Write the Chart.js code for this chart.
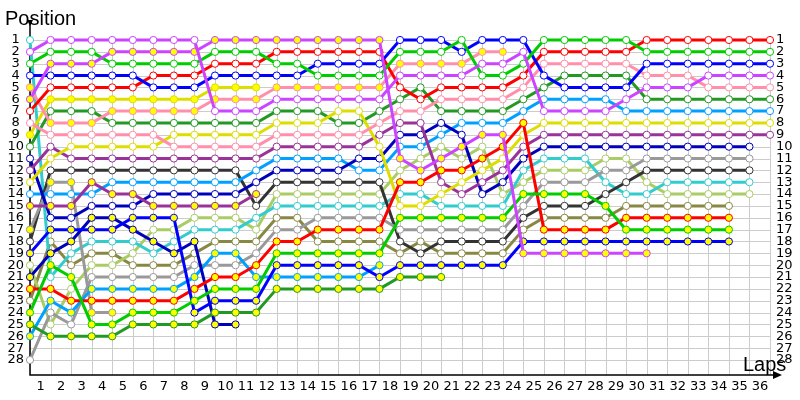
<!DOCTYPE html>
<html>
<head>
<meta charset="utf-8">
<title>Lap chart</title>
<script src="https://cdn.jsdelivr.net/npm/chart.js@4.4.1/dist/chart.umd.min.js"></script>
<style>
  body { margin: 0; background: #ffffff; }
  #lapChart { display: block; }
</style>
</head>
<body>
<canvas id="lapChart" width="800" height="400"></canvas>
<script>
// Vueltas (0 = parrilla de salida) y posiciones del eje
const laps = [0, 1, 2, 3, 4, 5, 6, 7, 8, 9, 10, 11, 12, 13, 14, 15, 16, 17, 18,
              19, 20, 21, 22, 23, 24, 25, 26, 27, 28, 29, 30, 31, 32, 33, 34, 35, 36];
const positions = [1, 2, 3, 4, 5, 6, 7, 8, 9, 10, 11, 12, 13, 14, 15, 16, 17, 18, 19, 20,
                   21, 22, 23, 24, 25, 26, 27, 28];

// Posición de cada piloto en cada vuelta (null = fuera de carrera)
const violetW = [2,1,1,1,1,1,1,1,1,7,7,7,6,6,6,6,6,6,4,4,4,4,3,3,2,7,7,7,7,6,5,5,5,4,4,4,4];
const violetY = [6,3,3,3,2,2,2,2,2,1,1,1,1,1,1,1,1,1,11,12,11,10,9,9,19,19,19,19,19,19,19,null,null,null,null,null,null];
const limeW   = [3,2,2,2,3,3,3,3,3,2,2,2,3,3,4,4,4,4,2,2,2,1,4,4,3,1,1,1,1,1,2,2,2,2,2,2,2];
const limeY   = [24,20,21,25,25,24,24,24,23,22,22,22,19,19,19,19,19,19,16,16,16,16,16,16,14,14,14,14,15,17,17,17,17,17,17,null,null];
const blueW   = [4,4,4,4,4,4,5,5,5,4,4,4,4,4,3,3,3,3,1,1,1,2,1,1,1,4,5,5,5,5,3,3,3,3,3,3,3];
const blueY   = [19,17,17,17,17,16,16,16,24,23,23,23,20,20,20,20,20,21,20,20,20,20,20,20,18,18,18,18,18,18,18,18,18,18,18,null,null];
const redW    = [7,5,5,5,5,5,4,4,4,3,3,3,2,2,2,2,2,2,5,6,5,5,5,5,4,2,2,2,2,2,1,1,1,1,1,1,1];
const redY    = [22,22,23,23,23,23,23,23,22,21,21,20,18,18,17,17,17,17,13,13,12,12,11,10,8,17,17,17,17,16,16,16,16,16,16,null,null];
const pinkW   = [8,9,9,9,9,9,9,10,10,10,10,10,9,9,9,9,9,8,7,7,6,6,6,6,5,3,3,3,3,3,4,4,4,5,5,5,5];
const pinkY   = [5,8,8,8,7,7,7,7,7,6,6,6,5,5,5,5,5,5,3,3,3,3,2,2,null,null,null,null,null,null,null,null,null,null,null,null,null];
const yellowW = [13,11,10,10,10,10,10,9,9,9,9,9,8,8,8,7,7,10,15,15,14,13,12,11,9,8,8,8,8,8,8,8,8,8,8,8,8];
const yellowY = [9,6,6,6,6,6,6,6,6,5,5,5,null,null,null,null,null,null,null,null,null,null,null,null,null,null,null,null,null,null,null,null,null,null,null,null,null];
const dgreenW = [10,7,7,7,8,8,8,8,8,8,8,8,7,7,7,8,8,7,6,5,7,7,7,7,6,5,4,4,4,4,6,6,6,6,6,6,6];
const dgreenY = [25,26,26,26,26,25,25,25,25,24,24,24,22,22,22,22,22,22,21,21,21,null,null,null,null,null,null,null,null,null,null,null,null,null,null,null,null];
const purpleW = [12,10,11,11,11,11,11,11,11,11,11,11,10,10,10,10,10,9,8,8,13,14,13,12,10,9,9,9,9,9,9,9,9,9,9,9,9];
const purpleY = [15,15,15,13,14,14,15,15,15,15,15,14,null,null,null,null,null,null,null,null,null,null,null,null,null,null,null,null,null,null,null,null,null,null,null,null,null];
const navyW   = [11,16,16,15,15,15,14,14,14,14,14,13,12,12,12,12,11,11,9,9,8,9,14,13,11,10,10,10,10,10,10,10,10,10,10,10,null];
const navyY   = [21,19,18,16,16,17,18,19,18,25,25,null,null,null,null,null,null,null,null,null,null,null,null,null,null,null,null,null,null,null,null,null,null,null,null,null,null];
const skyW    = [14,14,14,14,13,13,13,13,13,13,13,12,11,11,11,11,12,12,10,10,9,8,8,8,7,6,6,6,6,7,7,7,7,7,7,7,7];
const skyY    = [26,23,24,22,22,22,22,22,21,19,19,21,21,21,21,21,21,20,null,null,null,null,null,null,null,null,null,null,null,null,null,null,null,null,null,null,null];
const grayW   = [28,24,25,21,21,21,21,21,20,20,20,19,17,17,16,16,16,16,17,17,17,17,17,17,15,13,13,13,12,12,11,11,11,11,11,11,null];
const grayY   = [17,13,13,24,24,null,null,null,null,null,null,null,null,null,null,null,null,null,null,null,null,null,null,null,null,null,null,null,null,null,null,null,null,null,null,null,null];
const blackW  = [18,12,12,12,12,12,12,12,12,12,12,15,13,13,13,13,13,13,18,19,18,18,18,18,16,15,15,15,14,13,12,12,12,12,12,12,null];
const cyanW   = [1,21,19,18,18,18,19,18,17,17,17,16,15,15,15,15,15,15,14,14,15,15,15,15,12,11,11,11,13,14,14,13,13,13,13,13,null];
const lgreenW = [20,25,22,20,20,19,17,17,16,16,16,17,14,14,14,14,14,14,12,11,10,11,10,14,13,12,12,12,11,11,13,14,14,14,14,14,null];
const oliveW  = [23,18,20,19,19,20,20,20,19,18,18,18,16,16,18,18,18,18,19,18,19,19,19,19,17,16,16,16,16,15,15,15,15,15,15,null,null];

// Colores de cada equipo
const colors = {
    violet: '#cc44ff', lime: '#00cc00', blue: '#0000ff', red: '#ff0000',
    pink: '#ff8faa', yellow: '#dddd00', dgreen: '#229922', purple: '#993399',
    navy: '#0000bb', sky: '#00a0ff', gray: '#999999', black: '#333333',
    cyan: '#33cccc', lgreen: '#aacc66', olive: '#888844'
};

// [nombre, valores, color, relleno amarillo]
const series = [
    ['violetW', violetW, colors.violet, false],
    ['violetY', violetY, colors.violet, true],
    ['limeW', limeW, colors.lime, false],
    ['limeY', limeY, colors.lime, true],
    ['blueW', blueW, colors.blue, false],
    ['blueY', blueY, colors.blue, true],
    ['redW', redW, colors.red, false],
    ['redY', redY, colors.red, true],
    ['pinkW', pinkW, colors.pink, false],
    ['pinkY', pinkY, colors.pink, true],
    ['yellowW', yellowW, colors.yellow, false],
    ['yellowY', yellowY, colors.yellow, true],
    ['dgreenW', dgreenW, colors.dgreen, false],
    ['dgreenY', dgreenY, colors.dgreen, true],
    ['purpleW', purpleW, colors.purple, false],
    ['purpleY', purpleY, colors.purple, true],
    ['navyW', navyW, colors.navy, false],
    ['navyY', navyY, colors.navy, true],
    ['skyW', skyW, colors.sky, false],
    ['skyY', skyY, colors.sky, true],
    ['grayW', grayW, colors.gray, false],
    ['grayY', grayY, colors.gray, true],
    ['blackW', blackW, colors.black, false],
    ['cyanW', cyanW, colors.cyan, false],
    ['lgreenW', lgreenW, colors.lgreen, false],
    ['oliveW', oliveW, colors.olive, false]
];

const TITLE_FONT = 'Liberation Sans';
const TICK_FONT = 'DejaVu Sans';

// Rejilla, ejes con flecha y títulos
const lapChartDecor = {
    id: 'lapChartDecor',
    beforeDatasetsDraw(chart) {
        const { ctx, chartArea, scales: { x, y } } = chart;
        const left = x.getPixelForValue(0);
        const right = x.getPixelForValue(36);
        const top = y.getPixelForValue(1);
        const bottom = chartArea.bottom;
        ctx.save();
        ctx.strokeStyle = '#cccccc';
        ctx.lineWidth = 1;
        ctx.beginPath();
        positions.forEach(p => {
            const py = Math.round(y.getPixelForValue(p)) + 0.5;
            ctx.moveTo(left, py);
            ctx.lineTo(right, py);
        });
        laps.forEach(l => {
            const px = Math.round(x.getPixelForValue(l)) + 0.5;
            ctx.moveTo(px, top);
            ctx.lineTo(px, bottom);
        });
        ctx.stroke();

        // ejes en negro
        ctx.strokeStyle = '#000000';
        ctx.lineWidth = 1.5;
        ctx.beginPath();
        ctx.moveTo(left, chartArea.top - 2);
        ctx.lineTo(left, bottom);
        ctx.lineTo(right + 8, bottom);
        ctx.stroke();
        ctx.fillStyle = '#000000';
        ctx.beginPath();
        ctx.moveTo(left - 3, chartArea.top - 5);
        ctx.lineTo(left + 3, chartArea.top - 5);
        ctx.lineTo(left, chartArea.top + 1);
        ctx.closePath();
        ctx.fill();
        ctx.beginPath();
        ctx.moveTo(right + 3, bottom - 4);
        ctx.lineTo(right + 12, bottom);
        ctx.lineTo(right + 3, bottom + 4);
        ctx.closePath();
        ctx.fill();
        ctx.restore();
    },
    afterDraw(chart) {
        const { ctx } = chart;
        ctx.save();
        ctx.fillStyle = '#000000';
        ctx.font = '20px "' + TITLE_FONT + '"';
        ctx.textBaseline = 'alphabetic';
        ctx.textAlign = 'left';
        ctx.fillText('Position', 5, 25);
        ctx.fillText('Laps', 743, 371);
        ctx.restore();
    }
};

const posTicks = scale => { scale.ticks = positions.map(v => ({ value: v })); };

const config = {
    type: 'line',
    data: {
        datasets: series.map(([name, values, color, filled]) => ({
            label: name,
            data: laps.map((lap, i) => ({ x: lap, y: values[i] })),
            borderColor: color,
            backgroundColor: color,
            borderWidth: 3,
            pointRadius: 3.6,
            pointHoverRadius: 3.6,
            pointBorderWidth: 1,
            pointBorderColor: color,
            pointBackgroundColor: filled ? '#ffff00' : '#ffffff',
            tension: 0,
            spanGaps: false,
            clip: false
        }))
    },
    options: {
        responsive: false,
        animation: false,
        devicePixelRatio: 1,
        layout: { padding: { top: 25, right: 0, bottom: 0, left: 0 } },
        plugins: {
            legend: { display: false },
            tooltip: { enabled: false }
        },
        scales: {
            x: {
                type: 'linear',
                min: 0,
                max: 36,
                grid: { display: false, drawTicks: false },
                border: { display: false },
                afterBuildTicks: scale => { scale.ticks = laps.map(v => ({ value: v })); },
                afterFit: scale => { scale.height = 25; },
                ticks: {
                    autoSkip: false,
                    maxRotation: 0,
                    padding: 4,
                    labelOffset: -10,
                    color: '#000000',
                    font: { family: TICK_FONT, size: 13 },
                    callback: v => (v === 0 ? '' : String(v))
                }
            },
            y: {
                type: 'linear',
                position: 'left',
                reverse: true,
                min: -0.2656,
                max: 29.2656,
                grid: { display: false, drawTicks: false },
                border: { display: false },
                afterBuildTicks: posTicks,
                afterFit: scale => { scale.width = 30; },
                ticks: {
                    autoSkip: false,
                    padding: 6,
                    crossAlign: 'center',
                    color: '#000000',
                    font: { family: TICK_FONT, size: 13 }
                }
            },
            y2: {
                type: 'linear',
                position: 'right',
                reverse: true,
                min: -0.2656,
                max: 29.2656,
                grid: { display: false, drawTicks: false },
                border: { display: false },
                afterBuildTicks: posTicks,
                afterFit: scale => { scale.width = 30; },
                ticks: {
                    autoSkip: false,
                    padding: 6,
                    color: '#000000',
                    font: { family: TICK_FONT, size: 13 }
                }
            }
        }
    },
    plugins: [lapChartDecor]
};

new Chart(document.getElementById('lapChart').getContext('2d'), config);
</script>
</body>
</html>
